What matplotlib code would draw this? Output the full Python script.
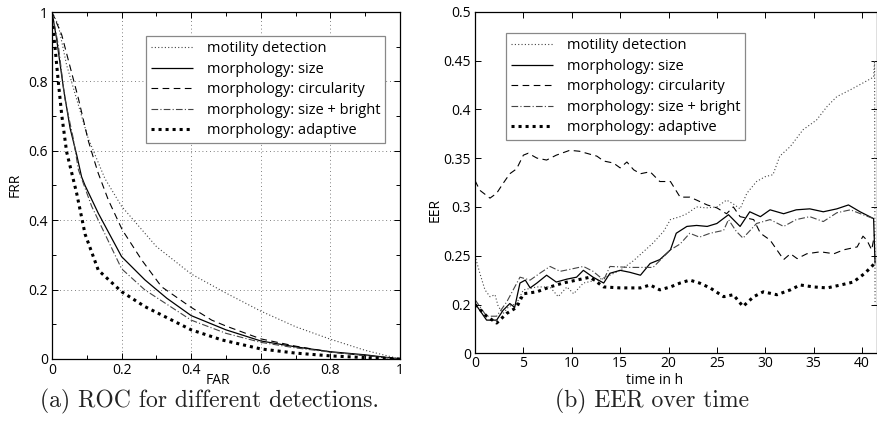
import matplotlib
matplotlib.use("Agg")
import matplotlib.pyplot as plt
import numpy as np

# ---------------- ROC data (left) ----------------
far_mot = [0, 0.018, 0.042, 0.104, 0.152, 0.2, 0.3, 0.4, 0.5, 0.6, 0.7, 0.8, 0.9, 1.0]
frr_mot = [1.0, 0.963, 0.847, 0.636, 0.52, 0.44, 0.324, 0.245, 0.19, 0.138, 0.093, 0.057, 0.025, 0.0]

far_size = [0, 0.013, 0.033, 0.052, 0.071, 0.085, 0.095, 0.133, 0.2, 0.267, 0.33, 0.4, 0.5, 0.6, 0.7, 0.8, 0.9, 1.0]
frr_size = [1.0, 0.924, 0.78, 0.665, 0.588, 0.525, 0.50, 0.42, 0.295, 0.228, 0.175, 0.125, 0.084, 0.052, 0.035, 0.021, 0.012, 0.0]

far_circ = [0, 0.028, 0.076, 0.104, 0.119, 0.133, 0.162, 0.202, 0.258, 0.315, 0.398, 0.459, 0.5, 0.6, 0.7, 0.8, 0.9, 1.0]
frr_circ = [1.0, 0.934, 0.75, 0.63, 0.58, 0.535, 0.458, 0.372, 0.285, 0.208, 0.15, 0.112, 0.095, 0.058, 0.037, 0.02, 0.01, 0.0]

far_sb = [0, 0.018, 0.037, 0.061, 0.076, 0.114, 0.2, 0.267, 0.4, 0.5, 0.6, 0.7, 0.8, 0.9, 1.0]
frr_sb = [1.0, 0.905, 0.75, 0.636, 0.545, 0.44, 0.26, 0.199, 0.112, 0.074, 0.048, 0.032, 0.02, 0.01, 0.0]

far_ad = [0, 0.009, 0.018, 0.028, 0.042, 0.057, 0.071, 0.095, 0.133, 0.2, 0.267, 0.4, 0.488, 0.6, 0.7, 0.8, 0.9, 1.0]
frr_ad = [0.98, 0.895, 0.8, 0.703, 0.597, 0.535, 0.477, 0.36, 0.256, 0.194, 0.151, 0.084, 0.055, 0.029, 0.017, 0.009, 0.004, 0.0]

# ---------------- EER over time data (right) ----------------
t_mot = [0, 0.5, 1.03, 1.55, 2.07, 2.4, 2.93, 3.5, 4.3, 5.0, 6.4, 7.75, 8.6, 9.5, 10.2, 11.2, 12.6,
         13.5, 15.0, 16.4, 17.4, 18.4, 19.5, 20.2, 21.2, 21.9, 22.9, 23.9, 25.0, 26.0, 26.7, 27.4,
         28.1, 29.1, 30.0, 30.8, 31.5, 32.6, 33.9, 35.3, 36.4, 37.4, 38.8, 40.1, 41.2, 41.3, 41.35]
eer_mot = [0.25, 0.232, 0.215, 0.208, 0.21, 0.198, 0.191, 0.198, 0.201, 0.215, 0.218, 0.218, 0.208,
           0.218, 0.211, 0.222, 0.225, 0.228, 0.235, 0.245, 0.254, 0.263, 0.275, 0.287, 0.29, 0.293,
           0.3, 0.299, 0.3, 0.307, 0.303, 0.298, 0.314, 0.326, 0.331, 0.333, 0.352, 0.362, 0.379,
           0.389, 0.403, 0.413, 0.42, 0.427, 0.433, 0.45, 0.2]

t_size = [0, 0.5, 1.2, 2.24, 2.9, 3.6, 4.1, 4.65, 5.2, 5.7, 6.4, 7.4, 8.4, 9.5, 10.5, 11.2, 12.2,
          13.3, 13.95, 15.0, 16.0, 17.1, 18.1, 19.1, 20.2, 20.8, 21.9, 22.9, 24.0, 25.0, 26.2, 27.4,
          28.4, 29.5, 30.5, 31.9, 33.2, 34.6, 36.0, 37.4, 38.6, 39.8, 41.2, 41.35]
eer_size = [0.201, 0.194, 0.184, 0.184, 0.194, 0.201, 0.197, 0.222, 0.225, 0.217, 0.222, 0.23,
            0.223, 0.226, 0.228, 0.235, 0.228, 0.222, 0.232, 0.235, 0.233, 0.23, 0.242, 0.246,
            0.256, 0.273, 0.28, 0.281, 0.28, 0.283, 0.292, 0.28, 0.295, 0.29, 0.297, 0.293, 0.297,
            0.298, 0.295, 0.298, 0.302, 0.295, 0.288, 0.242]

t_circ = [0, 0.5, 1.55, 2.24, 2.9, 3.6, 4.3, 5.0, 5.5, 6.4, 7.4, 8.4, 9.8, 10.8, 12.6, 13.3, 14.3,
          15.0, 15.7, 16.4, 17.1, 18.1, 19.1, 20.2, 21.2, 22.2, 22.9, 24.0, 25.0, 26.0, 26.7, 27.4,
          28.8, 29.5, 30.5, 31.2, 31.9, 32.6, 33.3, 34.3, 35.7, 37.1, 38.1, 39.5, 40.1, 40.5, 41.0, 41.3]
eer_circ = [0.327, 0.317, 0.309, 0.314, 0.324, 0.334, 0.339, 0.353, 0.355, 0.35, 0.348, 0.353,
            0.358, 0.357, 0.352, 0.347, 0.345, 0.34, 0.346, 0.338, 0.334, 0.336, 0.326, 0.326,
            0.31, 0.31, 0.307, 0.302, 0.299, 0.293, 0.3, 0.29, 0.287, 0.273, 0.266, 0.256, 0.246,
            0.252, 0.247, 0.252, 0.254, 0.252, 0.256, 0.259, 0.27, 0.266, 0.256, 0.272]

t_sb = [0, 1.2, 2.24, 3.3, 4.65, 5.7, 6.7, 7.75, 8.8, 9.8, 11.2, 12.2, 13.3, 13.95, 16.0, 18.4,
        20.2, 21.2, 22.2, 23.2, 24.3, 25.7, 26.2, 27.0, 27.7, 29.1, 30.5, 31.9, 33.2, 34.6, 36.0,
        37.4, 38.8, 40.1, 41.2]
eer_sb = [0.205, 0.188, 0.188, 0.203, 0.228, 0.225, 0.232, 0.239, 0.234, 0.236, 0.239, 0.234,
          0.225, 0.239, 0.238, 0.238, 0.256, 0.262, 0.273, 0.269, 0.273, 0.276, 0.287, 0.275,
          0.268, 0.283, 0.287, 0.28, 0.287, 0.29, 0.285, 0.294, 0.297, 0.292, 0.288]

t_ad = [0, 1.2, 2.24, 3.3, 4.3, 5.0, 6.4, 7.75, 9.1, 10.5, 11.9, 13.3, 15.0, 17.1, 18.1, 19.1,
        20.2, 21.2, 22.2, 23.2, 24.3, 25.7, 26.7, 27.7, 28.8, 29.8, 31.2, 32.6, 33.6, 35.0, 36.4,
        37.8, 39.1, 40.3, 41.3]
eer_ad = [0.2, 0.188, 0.181, 0.191, 0.197, 0.211, 0.213, 0.218, 0.222, 0.225, 0.228, 0.218,
          0.217, 0.217, 0.22, 0.215, 0.218, 0.222, 0.225, 0.222, 0.217, 0.208, 0.21, 0.198,
          0.208, 0.213, 0.21, 0.215, 0.22, 0.218, 0.217, 0.22, 0.223, 0.232, 0.242]

labels = ["motility detection", "morphology: size", "morphology: circularity",
          "morphology: size + bright", "morphology: adaptive"]

roc_xticks = [0, 0.2, 0.4, 0.6, 0.8, 1]
roc_xticklabels = ["0", "0.2", "0.4", "0.6", "0.8", "1"]
eer_xticks = [0, 5, 10, 15, 20, 25, 30, 35, 40]
eer_yticks = [0.15, 0.2, 0.25, 0.3, 0.35, 0.4, 0.45, 0.5]
eer_yticklabels = ["0", "0.2", "0.25", "0.3", "0.35", "0.4", "0.45", "0.5"]

# ---------------- styles ----------------
styles = [
    dict(color="#444444", lw=0.8, ls=(0, (1, 2))),
    dict(color="black", lw=0.9, ls="-"),
    dict(color="black", lw=0.8, ls=(0, (6, 4))),
    dict(color="#444444", lw=0.8, ls=(0, (6, 2, 1, 2))),
    dict(color="black", lw=2.2, ls=(0, (1, 1.3))),
]

SANS = ["Open Sans", "DejaVu Sans"]
plt.rcParams["font.family"] = SANS

W, H = 877, 421
fig = plt.figure(figsize=(W / 100, H / 100), dpi=100)

# Left axes
axL = fig.add_axes([52 / W, 1 - 359 / H, 348 / W, 347 / H])
roc = [(far_mot, frr_mot), (far_size, frr_size), (far_circ, frr_circ), (far_sb, frr_sb), (far_ad, frr_ad)]
for (x, y), st, lab in zip(roc, styles, labels):
    axL.plot(x, y, color=st["color"], lw=st["lw"], linestyle=st["ls"], label=lab,
             solid_capstyle="butt", dash_capstyle="butt")
axL.set_xlim(0, 1)
axL.set_ylim(0, 1)
axL.set_xticks(roc_xticks)
axL.set_xticklabels(roc_xticklabels)
axL.set_yticks(roc_xticks)
axL.set_yticklabels(roc_xticklabels)
axL.set_xticks(np.arange(0.1, 1.0, 0.2), minor=True)
axL.set_yticks(np.arange(0.1, 1.0, 0.2), minor=True)
axL.grid(True, which="major", color="#555555", lw=0.6, linestyle=(0, (1, 3.5)))
axL.set_xlabel("FAR", fontsize=10)
axL.set_ylabel("FRR", fontsize=10)
axL.xaxis.set_label_coords((218 - 52) / 348, -(380 - 359) / 347)
axL.yaxis.set_label_coords(-(52 - 15) / 348, (359 - 185) / 347)

# Right axes
axR = fig.add_axes([475 / W, 1 - 353.3 / H, 402 / W, 341.6 / H])
eer = [(t_mot, eer_mot), (t_size, eer_size), (t_circ, eer_circ), (t_sb, eer_sb), (t_ad, eer_ad)]
for (x, y), st, lab in zip(eer, styles, labels):
    axR.plot(x, y, color=st["color"], lw=st["lw"], linestyle=st["ls"], label=lab,
             solid_capstyle="butt", dash_capstyle="butt")
axR.set_xlim(0, 41.55)
axR.set_ylim(0.15, 0.5)
axR.set_xticks(eer_xticks)
axR.set_yticks(eer_yticks)
axR.set_yticklabels(eer_yticklabels)
axR.set_xlabel("time in h", fontsize=10)
axR.set_ylabel("EER", fontsize=10)
axR.xaxis.set_label_coords((655 - 475) / 402, -(381 - 353.3) / 341.6)
axR.yaxis.set_label_coords(-(475 - 435) / 402, (353.3 - 210) / 341.6)

for ax in (axL, axR):
    ax.tick_params(which="both", direction="in", top=True, right=True, labelsize=10,
                   width=0.7, color="black", pad=3)
    ax.tick_params(which="major", length=4)
    ax.tick_params(which="minor", length=3)
    for sp in ax.spines.values():
        sp.set_linewidth(0.9)
    ax.xaxis.label.set_va("center")
    ax.yaxis.label.set_va("center")
axR.tick_params(axis="x", pad=2)

legkw = dict(loc="upper left", fontsize=10.5, frameon=True, fancybox=False,
             edgecolor="#888888", framealpha=1, handlelength=2.9, handletextpad=0.9,
             borderpad=0.35, labelspacing=0.38, borderaxespad=0)
legL = axL.legend(bbox_to_anchor=(146 / W, 1 - 36 / H), bbox_transform=fig.transFigure, **legkw)
legR = axR.legend(bbox_to_anchor=(506 / W, 1 - 33 / H), bbox_transform=fig.transFigure, **legkw)
for leg in (legL, legR):
    leg.get_frame().set_linewidth(0.9)

fig.text(40 / W, 1 - 401 / H, "(a) ROC for different detections.", family="cmr10",
         fontsize=17, color="#222222", va="center", ha="left")
fig.text(555 / W, 1 - 401 / H, "(b) EER over time", family="cmr10",
         fontsize=17, color="#222222", va="center", ha="left")

fig.savefig("out.png", dpi=100)
